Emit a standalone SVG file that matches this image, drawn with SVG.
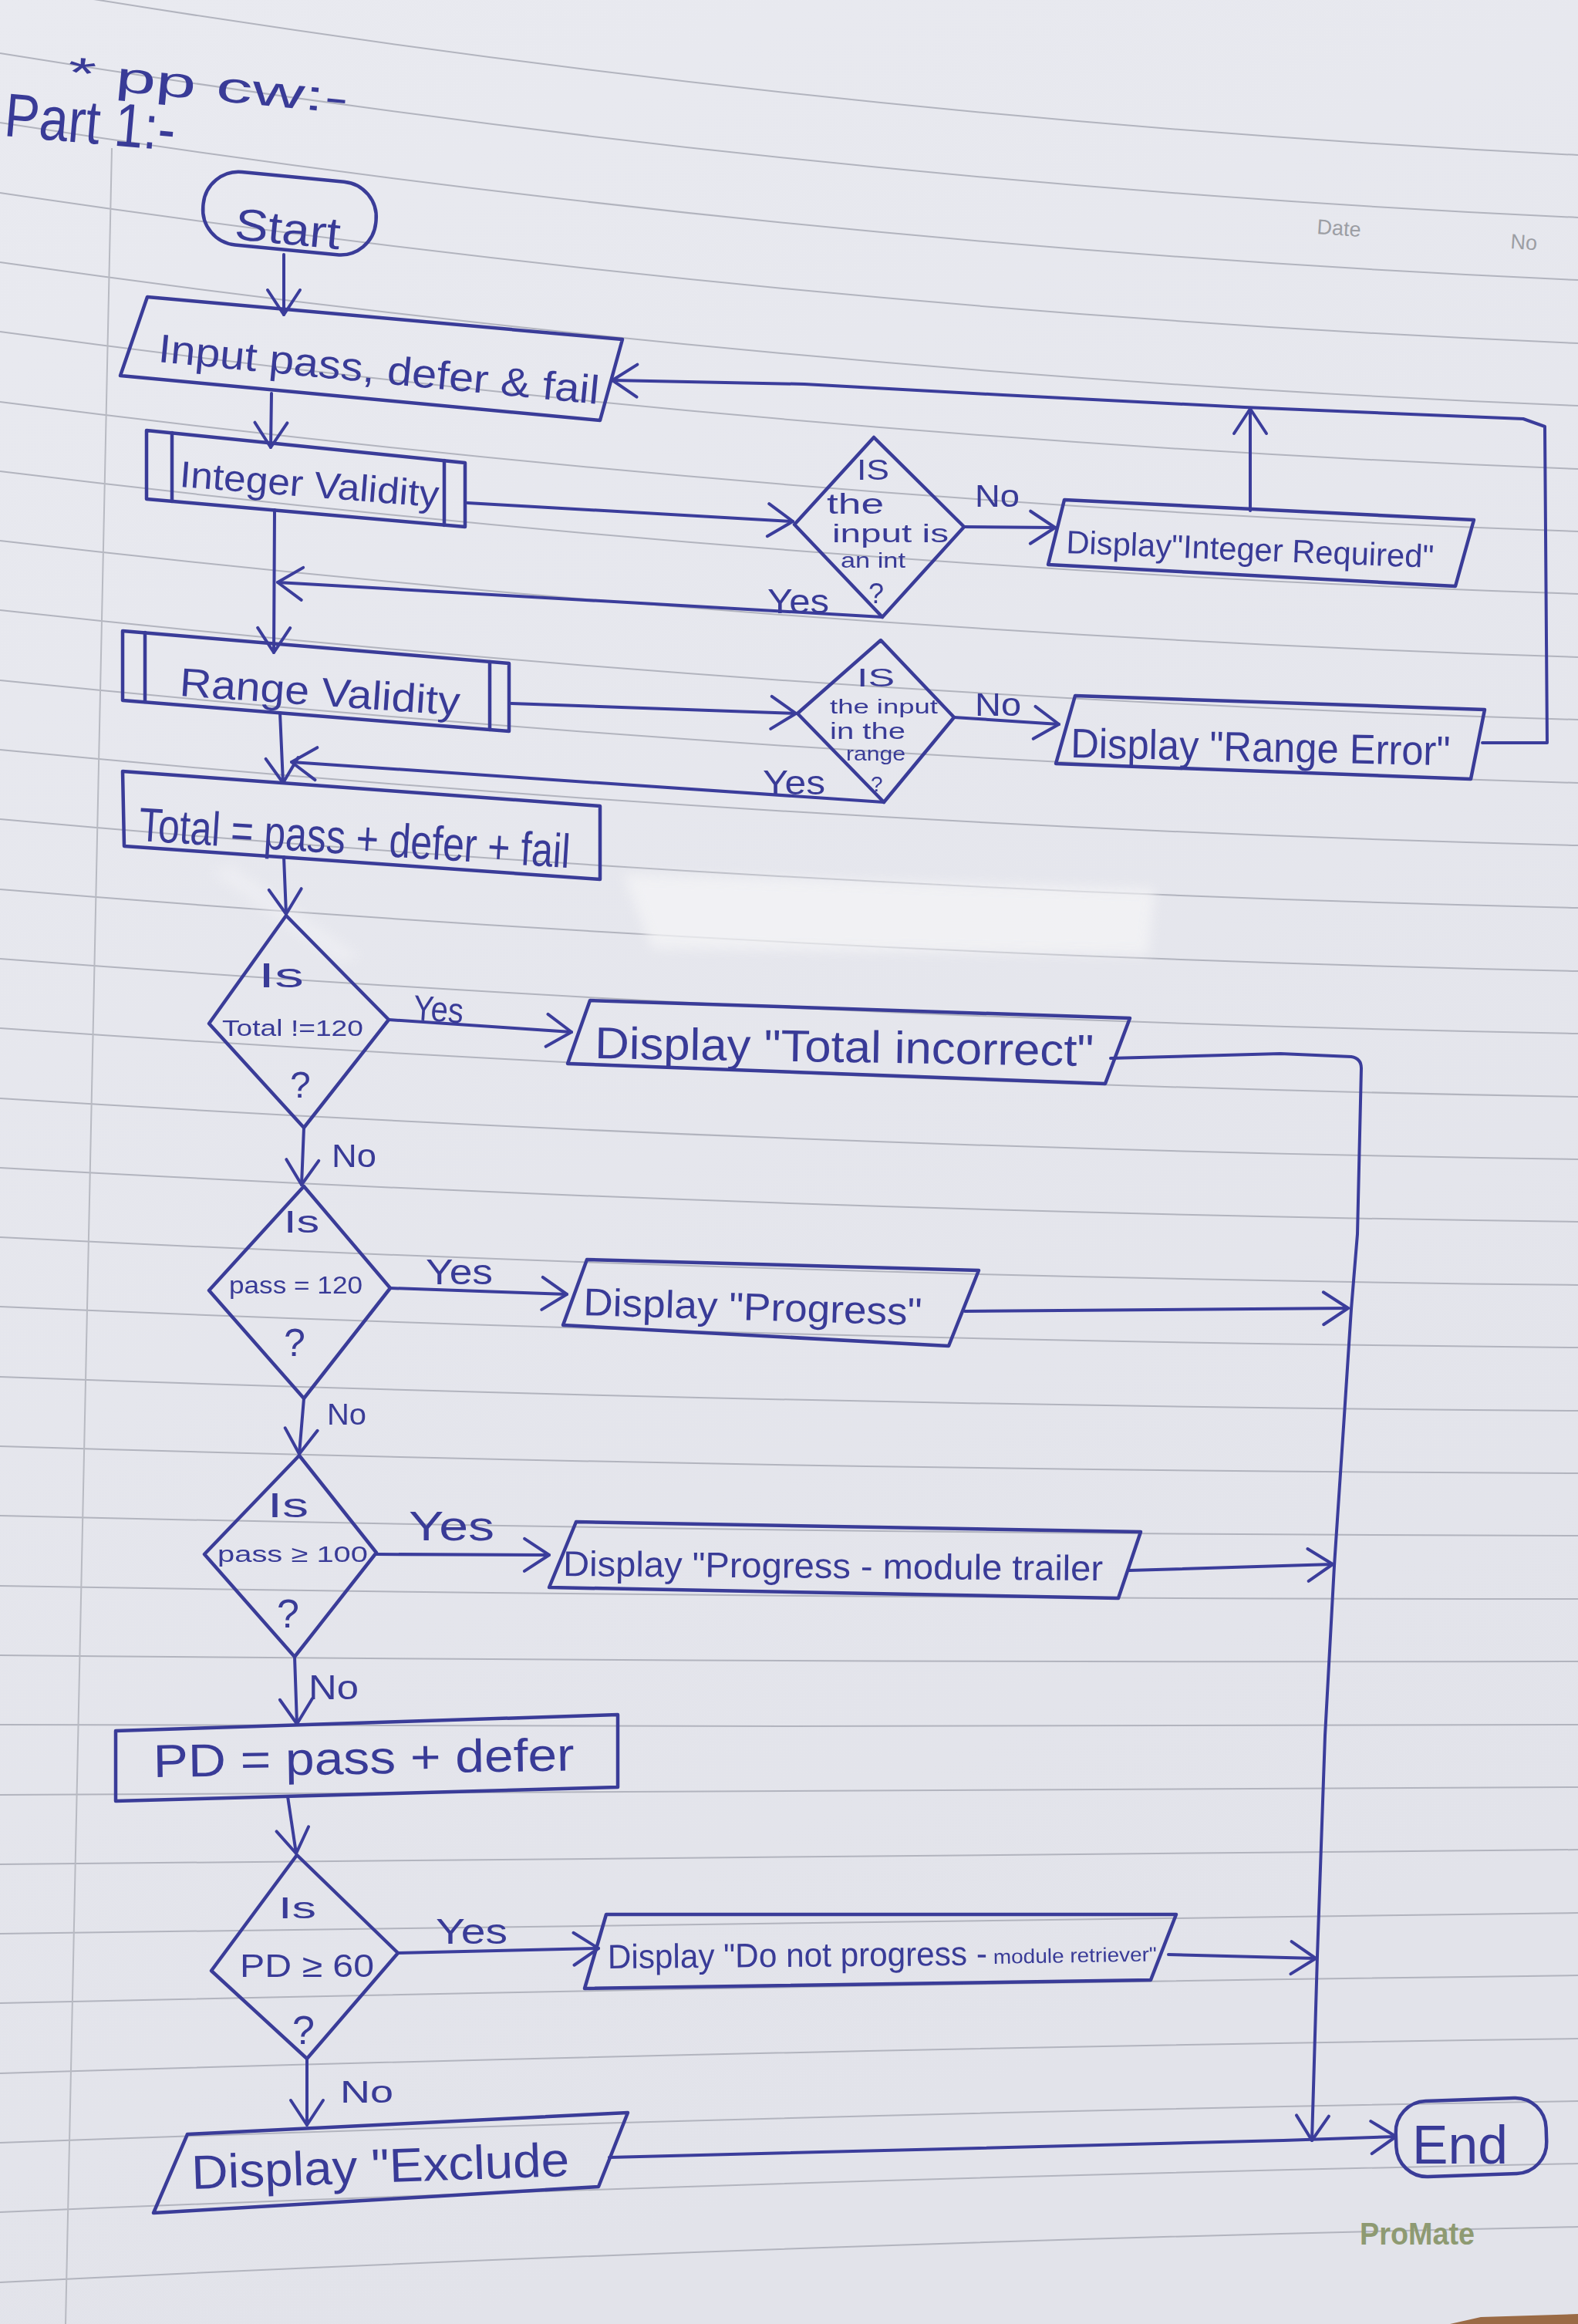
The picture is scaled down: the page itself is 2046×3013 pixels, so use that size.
<svg xmlns="http://www.w3.org/2000/svg" width="2046" height="3013" viewBox="0 0 2046 3013">
<defs>
<style>
.ink{fill:none;stroke:#3b3d9b;stroke-width:4;stroke-linejoin:round;stroke-linecap:round}
.box{fill:none;stroke:#3a3c98;stroke-width:4.5;stroke-linejoin:round;stroke-linecap:round}
.t{font-family:"Liberation Sans",Arial,sans-serif;fill:#393b97}
.rule{fill:none;stroke:#b2b4be;stroke-width:2}
.gray{font-family:"Liberation Sans",Arial,sans-serif;fill:#9c9ea4}
</style>
<linearGradient id="paper" x1="0" y1="0" x2="0.3" y2="1">
<stop offset="0" stop-color="#e9eaf0"/>
<stop offset="1" stop-color="#e2e3ea"/>
</linearGradient>
<filter id="blur" x="-10%" y="-20%" width="120%" height="140%"><feGaussianBlur stdDeviation="8"/></filter>
<marker id="ah" viewBox="0 0 40 50" refX="38" refY="25" markerWidth="40" markerHeight="50" orient="auto" markerUnits="userSpaceOnUse" overflow="visible">
<path d="M6,4 L38,25 L6,46" fill="none" stroke="#3b3d9b" stroke-width="4" stroke-linecap="round" stroke-linejoin="round"/>
</marker>
</defs>

<g id="paper-bg">
<rect x="0" y="0" width="2046" height="3013" fill="url(#paper)"/>
<path d="M1880,3013 L1920,3004 L2046,3000 L2046,3013 Z" fill="#9a6a45"/>
<g class="rule">
<path d="M0,-21 Q1023,151 2046,201"/>
<path d="M0,69 Q1023,235 2046,282"/>
<path d="M0,159 Q1023,318 2046,363"/>
<path d="M0,250 Q1023,402 2046,445"/>
<path d="M0,340 Q1023,485 2046,526"/>
<path d="M0,430 Q1023,569 2046,608"/>
<path d="M0,521 Q1023,652 2046,689"/>
<path d="M0,611 Q1023,736 2046,770"/>
<path d="M0,701 Q1023,819 2046,852"/>
<path d="M0,791 Q1023,903 2046,933"/>
<path d="M0,882 Q1023,986 2046,1015"/>
<path d="M0,972 Q1023,1070 2046,1096"/>
<path d="M0,1062 Q1023,1154 2046,1177"/>
<path d="M0,1153 Q1023,1237 2046,1259"/>
<path d="M0,1243 Q1023,1321 2046,1340"/>
<path d="M0,1333 Q1023,1404 2046,1422"/>
<path d="M0,1424 Q1023,1488 2046,1503"/>
<path d="M0,1514 Q1023,1571 2046,1584"/>
<path d="M0,1604 Q1023,1655 2046,1666"/>
<path d="M0,1694 Q1023,1738 2046,1747"/>
<path d="M0,1785 Q1023,1822 2046,1829"/>
<path d="M0,1875 Q1023,1906 2046,1910"/>
<path d="M0,1965 Q1023,1989 2046,1991"/>
<path d="M0,2056 Q1023,2073 2046,2073"/>
<path d="M0,2146 Q1023,2156 2046,2154"/>
<path d="M0,2236 Q1023,2240 2046,2236"/>
<path d="M0,2327 Q1023,2323 2046,2317"/>
<path d="M0,2417 Q1023,2407 2046,2398"/>
<path d="M0,2507 Q1023,2490 2046,2480"/>
<path d="M0,2597 Q1023,2574 2046,2561"/>
<path d="M0,2688 Q1023,2657 2046,2643"/>
<path d="M0,2778 Q1023,2741 2046,2724"/>
<path d="M0,2868 Q1023,2825 2046,2805"/>
<path d="M0,2959 Q1023,2908 2046,2887"/>
</g>
<path d="M145,192 L85,3013" stroke="#b8bac2" stroke-width="2" fill="none"/>
<text class="gray" x="1707" y="303" font-size="27" transform="rotate(4 1707 303)">Date</text>
<text class="gray" x="1958" y="322" font-size="27" transform="rotate(4 1958 322)">No</text>
<text x="1763" y="2910" font-size="40" font-weight="bold" textLength="149" lengthAdjust="spacingAndGlyphs" style="font-family:'Liberation Sans',Arial,sans-serif;fill:#8e9a72">ProMate</text>
<g filter="url(#blur)" opacity="0.75">
<path d="M807,1133 L1498,1152 L1489,1239 L845,1230 Z" fill="#f4f4f6"/>
<path d="M270,1130 L300,1120 L470,1240 L440,1250 Z" fill="#f4f4f6" opacity="0.6"/>
</g>
</g>

<g id="title">
<text class="t" x="86" y="112" font-size="56" textLength="366" lengthAdjust="spacingAndGlyphs" transform="rotate(5.5 86 112)">* pp cw:-</text>
<text class="t" x="4" y="176" font-size="80" textLength="222" lengthAdjust="spacingAndGlyphs" transform="rotate(5 4 176)">Part 1:-</text>
</g>

<g id="connectors">
<path class="ink" marker-end="url(#ah)" d="M368,330 L368,408"/>
<path class="ink" marker-end="url(#ah)" d="M352,510 L351,580"/>
<path class="ink" marker-end="url(#ah)" d="M606,652 L1028,676"/>
<path class="ink" marker-end="url(#ah)" d="M1250,683 L1368,684"/>
<path class="ink" marker-end="url(#ah)" d="M1621,662 L1621,530"/>
<path class="ink" marker-end="url(#ah)" d="M1922,963 L2006,963 L2003,553 L1975,543 L1614,528 L1300,512 L1043,498 L794,493"/>
<path class="ink" marker-end="url(#ah)" d="M1144,800 L360,755"/>
<path class="ink" marker-end="url(#ah)" d="M356,661 L355,846"/>
<path class="ink" marker-end="url(#ah)" d="M663,912 L1032,925"/>
<path class="ink" marker-end="url(#ah)" d="M1237,930 L1373,939"/>
<path class="ink" marker-end="url(#ah)" d="M1146,1040 L378,988"/>
<path class="ink" marker-end="url(#ah)" d="M363,924 L367,1015"/>
<path class="ink" marker-end="url(#ah)" d="M368,1111 L371,1185"/>
<path class="ink" marker-end="url(#ah)" d="M504,1322 L741,1338"/>
<path class="ink" marker-end="url(#ah)" d="M1440,1372 L1660,1366 L1752,1370 Q1765,1372 1765,1385 L1760,1600 L1752,1697 L1742,1850 L1730,2030 L1718,2250 L1708,2536 L1701,2775"/>
<path class="ink" marker-end="url(#ah)" d="M394,1462 L391,1536"/>
<path class="ink" marker-end="url(#ah)" d="M506,1670 L735,1678"/>
<path class="ink" marker-end="url(#ah)" d="M1251,1700 L1748,1696"/>
<path class="ink" marker-end="url(#ah)" d="M394,1813 L388,1885"/>
<path class="ink" marker-end="url(#ah)" d="M488,2015 L712,2016"/>
<path class="ink" marker-end="url(#ah)" d="M1464,2036 L1728,2028"/>
<path class="ink" marker-end="url(#ah)" d="M382,2148 L385,2235"/>
<path class="ink" marker-end="url(#ah)" d="M373,2329 L384,2403"/>
<path class="ink" marker-end="url(#ah)" d="M516,2532 L776,2526"/>
<path class="ink" marker-end="url(#ah)" d="M1515,2534 L1706,2539"/>
<path class="ink" marker-end="url(#ah)" d="M398,2669 L398,2755"/>
<path class="ink" marker-end="url(#ah)" d="M790,2797 L1664,2775 L1810,2770"/>
<text class="t" x="1264" y="657" font-size="40" textLength="58" lengthAdjust="spacingAndGlyphs">No</text>
<text class="t" x="995" y="795" font-size="44" textLength="80" lengthAdjust="spacingAndGlyphs">Yes</text>
<text class="t" x="1264" y="928" font-size="42" textLength="60" lengthAdjust="spacingAndGlyphs">No</text>
<text class="t" x="989" y="1030" font-size="44" textLength="81" lengthAdjust="spacingAndGlyphs">Yes</text>
<text class="t" x="535" y="1322" font-size="46" textLength="65" lengthAdjust="spacingAndGlyphs" transform="rotate(4 535 1322)">Yes</text>
<text class="t" x="430" y="1513" font-size="42" textLength="58" lengthAdjust="spacingAndGlyphs">No</text>
<text class="t" x="552" y="1665" font-size="46" textLength="87" lengthAdjust="spacingAndGlyphs">Yes</text>
<text class="t" x="424" y="1847" font-size="38" textLength="51" lengthAdjust="spacingAndGlyphs">No</text>
<text class="t" x="530" y="1997" font-size="54" textLength="111" lengthAdjust="spacingAndGlyphs">Yes</text>
<text class="t" x="400" y="2203" font-size="44" textLength="65" lengthAdjust="spacingAndGlyphs">No</text>
<text class="t" x="565" y="2520" font-size="46" textLength="93" lengthAdjust="spacingAndGlyphs">Yes</text>
<text class="t" x="441" y="2726" font-size="40" textLength="69" lengthAdjust="spacingAndGlyphs">No</text>
</g>

<g id="start">
<rect class="box" x="263" y="229" width="225" height="95" rx="46" transform="rotate(5.5 375 276)"/>
<text class="t" x="303" y="310" font-size="58" textLength="137" lengthAdjust="spacingAndGlyphs" transform="rotate(5.5 303 310)">Start</text>
</g>

<g id="input">
<polygon class="box" points="191,385 807,440 778,545 156,487"/>
<text class="t" x="204" y="469" font-size="52" textLength="574" lengthAdjust="spacingAndGlyphs" transform="rotate(5.5 204 469)">Input pass, defer &amp; fail</text>
</g>

<g id="integer-validity">
<polygon class="box" points="190,558 603,600 603,683 190,647"/>
<path class="box" d="M223,561 L223,650 M576,597 L576,681"/>
<text class="t" x="232" y="631" font-size="48" textLength="337" lengthAdjust="spacingAndGlyphs" transform="rotate(4.5 232 631)">Integer Validity</text>
</g>

<g id="is-int">
<polygon class="box" points="1133,567 1250,683 1144,800 1030,680"/>
<text class="t" x="1111" y="622" font-size="36" textLength="42" lengthAdjust="spacingAndGlyphs">IS</text>
<text class="t" x="1072" y="666" font-size="36" textLength="74" lengthAdjust="spacingAndGlyphs">the</text>
<text class="t" x="1079" y="703" font-size="34" textLength="151" lengthAdjust="spacingAndGlyphs">input is</text>
<text class="t" x="1090" y="736" font-size="28" textLength="84" lengthAdjust="spacingAndGlyphs">an int</text>
<text class="t" x="1126" y="782" font-size="36">?</text>
</g>

<g id="integer-required">
<polygon class="box" points="1380,648 1911,674 1887,760 1359,732"/>
<text class="t" x="1382" y="717" font-size="42" textLength="477" lengthAdjust="spacingAndGlyphs" transform="rotate(2.3 1382 717)">Display"Integer Required"</text>
</g>

<g id="range-validity">
<polygon class="box" points="159,818 660,860 660,948 159,908"/>
<path class="box" d="M188,820 L188,910 M635,858 L635,946"/>
<text class="t" x="232" y="902" font-size="52" textLength="364" lengthAdjust="spacingAndGlyphs" transform="rotate(4 232 902)">Range Validity</text>
</g>

<g id="in-range">
<polygon class="box" points="1142,830 1237,930 1146,1040 1034,925"/>
<text class="t" x="1111" y="890" font-size="34" textLength="49" lengthAdjust="spacingAndGlyphs">IS</text>
<text class="t" x="1076" y="925" font-size="26" textLength="140" lengthAdjust="spacingAndGlyphs">the input</text>
<text class="t" x="1076" y="958" font-size="30" textLength="98" lengthAdjust="spacingAndGlyphs">in the</text>
<text class="t" x="1097" y="986" font-size="26" textLength="77" lengthAdjust="spacingAndGlyphs">range</text>
<text class="t" x="1129" y="1026" font-size="28">?</text>
</g>

<g id="range-error">
<polygon class="box" points="1394,902 1925,920 1907,1010 1369,990"/>
<text class="t" x="1388" y="982" font-size="54" textLength="492" lengthAdjust="spacingAndGlyphs" transform="rotate(1.2 1388 982)">Display "Range Error"</text>
</g>

<g id="total">
<polygon class="box" points="159,1000 778,1045 778,1140 161,1097"/>
<text class="t" x="179" y="1090" font-size="62" textLength="560" lengthAdjust="spacingAndGlyphs" transform="rotate(3.6 179 1090)">Total = pass + defer + fail</text>
</g>

<g id="total-check">
<polygon class="box" points="371,1187 504,1322 394,1462 271,1327"/>
<text class="t" x="335" y="1280" font-size="44" textLength="59" lengthAdjust="spacingAndGlyphs">Is</text>
<text class="t" x="288" y="1343" font-size="30" textLength="183" lengthAdjust="spacingAndGlyphs">Total !=120</text>
<text class="t" x="376" y="1423" font-size="48">?</text>
</g>

<g id="total-incorrect">
<polygon class="box" points="765,1297 1465,1320 1433,1405 736,1379"/>
<text class="t" x="771" y="1372" font-size="58" textLength="647" lengthAdjust="spacingAndGlyphs" transform="rotate(0.9 771 1372)">Display "Total incorrect"</text>
</g>

<g id="pass-check">
<polygon class="box" points="394,1538 506,1670 394,1813 271,1673"/>
<text class="t" x="368" y="1598" font-size="40" textLength="46" lengthAdjust="spacingAndGlyphs">Is</text>
<text class="t" x="297" y="1677" font-size="32" textLength="173" lengthAdjust="spacingAndGlyphs">pass = 120</text>
<text class="t" x="368" y="1758" font-size="50">?</text>
</g>

<g id="progress">
<polygon class="box" points="761,1633 1269,1647 1230,1745 730,1718"/>
<text class="t" x="756" y="1705" font-size="50" textLength="439" lengthAdjust="spacingAndGlyphs" transform="rotate(1.7 756 1705)">Display "Progress"</text>
</g>

<g id="pass100-check">
<polygon class="box" points="388,1887 488,2013 382,2148 265,2015"/>
<text class="t" x="347" y="1967" font-size="44" textLength="53" lengthAdjust="spacingAndGlyphs">Is</text>
<text class="t" x="282" y="2025" font-size="30" textLength="195" lengthAdjust="spacingAndGlyphs">pass ≥ 100</text>
<text class="t" x="359" y="2110" font-size="52">?</text>
</g>

<g id="module-trailer">
<polygon class="box" points="747,1973 1479,1986 1450,2072 712,2058"/>
<text class="t" x="730" y="2043" font-size="46" textLength="700" lengthAdjust="spacingAndGlyphs" transform="rotate(0.5 730 2043)">Display "Progress - module trailer</text>
</g>

<g id="pd">
<polygon class="box" points="150,2244 801,2223 801,2317 150,2335"/>
<text class="t" x="199" y="2304" font-size="60" textLength="546" lengthAdjust="spacingAndGlyphs" transform="rotate(-0.9 199 2304)">PD = pass + defer</text>
</g>

<g id="pd-check">
<polygon class="box" points="385,2405 516,2532 398,2669 274,2555"/>
<text class="t" x="361" y="2487" font-size="38" textLength="49" lengthAdjust="spacingAndGlyphs">Is</text>
<text class="t" x="311" y="2563" font-size="42" textLength="174" lengthAdjust="spacingAndGlyphs">PD ≥ 60</text>
<text class="t" x="379" y="2650" font-size="52">?</text>
</g>

<g id="module-retriever">
<polygon class="box" points="786,2482 1525,2482 1492,2567 758,2578"/>
<text class="t" x="788" y="2552" font-size="44" textLength="492" lengthAdjust="spacingAndGlyphs" transform="rotate(-0.5 788 2552)">Display "Do not progress -</text>
<text class="t" x="1288" y="2546" font-size="26" textLength="212" lengthAdjust="spacingAndGlyphs" transform="rotate(-1 1288 2546)">module retriever"</text>
</g>

<g id="exclude">
<polygon class="box" points="243,2767 814,2739 776,2835 199,2869"/>
<text class="t" x="249" y="2838" font-size="62" textLength="490" lengthAdjust="spacingAndGlyphs" transform="rotate(-2 249 2838)">Display "Exclude</text>
</g>

<g id="end">
<rect class="box" x="1810" y="2722" width="195" height="98" rx="40" transform="rotate(-2 1907 2771)"/>
<text class="t" x="1831" y="2805" font-size="70" textLength="124" lengthAdjust="spacingAndGlyphs">End</text>
</g>
</svg>
